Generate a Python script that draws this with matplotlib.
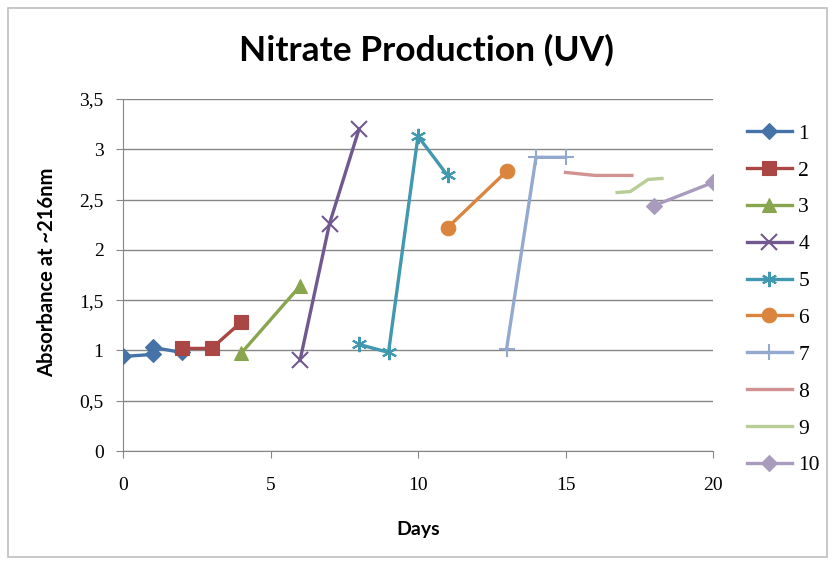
import matplotlib
matplotlib.use("Agg")
import matplotlib.pyplot as plt
from matplotlib.patches import Rectangle
from matplotlib.ticker import FuncFormatter

# ---- data ----
series_names = ["1", "2", "3", "4", "5", "6", "7", "8", "9", "10"]
x1 = [0, 1, 1, 2];              y1 = [0.94, 0.96, 1.03, 0.98]
x2 = [2, 3, 4];                 y2 = [1.02, 1.02, 1.28]
x3 = [4, 6];                    y3 = [0.97, 1.64]
x4 = [6, 7, 8];                 y4 = [0.90, 2.26, 3.20]
x5 = [8, 9, 10, 11];            y5 = [1.06, 0.98, 3.13, 2.74]
x6 = [11, 13];                  y6 = [2.22, 2.78]
x7 = [13, 14, 15];              y7 = [1.01, 2.92, 2.92]
x8 = [15, 16, 17.25];           y8 = [2.77, 2.74, 2.74]
x9 = [16.75, 17.2, 17.8, 18.27]; y9 = [2.57, 2.58, 2.70, 2.71]
x10 = [18, 20];                 y10 = [2.44, 2.67]
xs = [x1, x2, x3, x4, x5, x6, x7, x8, x9, x10]
ys = [y1, y2, y3, y4, y5, y6, y7, y8, y9, y10]

x_ticks = [0, 5, 10, 15, 20]
y_ticks = [0, 0.5, 1, 1.5, 2, 2.5, 3, 3.5]
title = "Nitrate Production (UV)"
xlabel = "Days"
ylabel = "Absorbance at ~216nm"

colors = ["#4572A7", "#AA4643", "#89A54E", "#71588F", "#4198AF",
          "#DB843D", "#93A9CF", "#D19392", "#B9CD96", "#A99BBD"]
markers = ["D", "s", "^", "x", (6, 2, 0), "o", "+", None, None, "D"]
msizes = [8, 9.5, 10, 11, 11, 10.5, 12, 0, 0, 8]

fig = plt.figure(figsize=(8.35, 5.65), dpi=100)
fig.patches.append(Rectangle((8/835, 1-557/565), (827-8)/835, (557-8)/565,
                             transform=fig.transFigure, fill=False,
                             edgecolor="#BFBFBF", linewidth=1.2))
ax = fig.add_axes([123/835, 1-451/565, (713-123)/835, (451-99)/565])

for i in range(10):
    mk = markers[i]
    ax.plot(xs[i], ys[i], color=colors[i], linewidth=2.4,
            marker=mk if mk is not None else "None",
            markersize=msizes[i], markeredgewidth=1.5 if mk in ("x", "+", (6, 2, 0)) else 0.8,
            markeredgecolor=colors[i], label=series_names[i], zorder=3)

ax.set_xlim(0, 20)
ax.set_ylim(0, 3.5)
ax.set_xticks(x_ticks)
ax.set_yticks(y_ticks)
ax.yaxis.set_major_formatter(FuncFormatter(lambda v, p: ("%g" % v).replace(".", ",")))
ax.grid(axis="y", color="#868686", linewidth=1.0)
ax.set_axisbelow(True)
for s in ["top", "right"]:
    ax.spines[s].set_visible(False)
for s in ["left", "bottom"]:
    ax.spines[s].set_color("#868686")
ax.tick_params(axis="both", direction="out", color="#868686", length=5,
               labelsize=14)
ax.tick_params(axis="x", pad=14)
ax.tick_params(axis="y", pad=9)
for lab in ax.get_xticklabels() + ax.get_yticklabels():
    lab.set_fontfamily("Liberation Serif")

fig.text(426/835, 1-50/565, title, ha="center", va="center",
         fontsize=25.5, fontweight="bold", family="Lato")
fig.text(418/835, 1-529/565, xlabel, ha="center", va="center",
         fontsize=14, fontweight="bold", family="Lato")
fig.text(47/835, 1-272/565, ylabel, ha="center", va="center", rotation=90,
         fontsize=14.5, fontweight="bold", family="Lato")

leg = fig.legend(loc="upper left", bbox_to_anchor=(738/835, 1-115/565),
                 frameon=False, handlelength=2.1, labelspacing=0.78,
                 handletextpad=0.3, borderaxespad=0,
                 prop={"family": "Liberation Serif", "size": 15.5})

fig.savefig("out.png", dpi=100)
